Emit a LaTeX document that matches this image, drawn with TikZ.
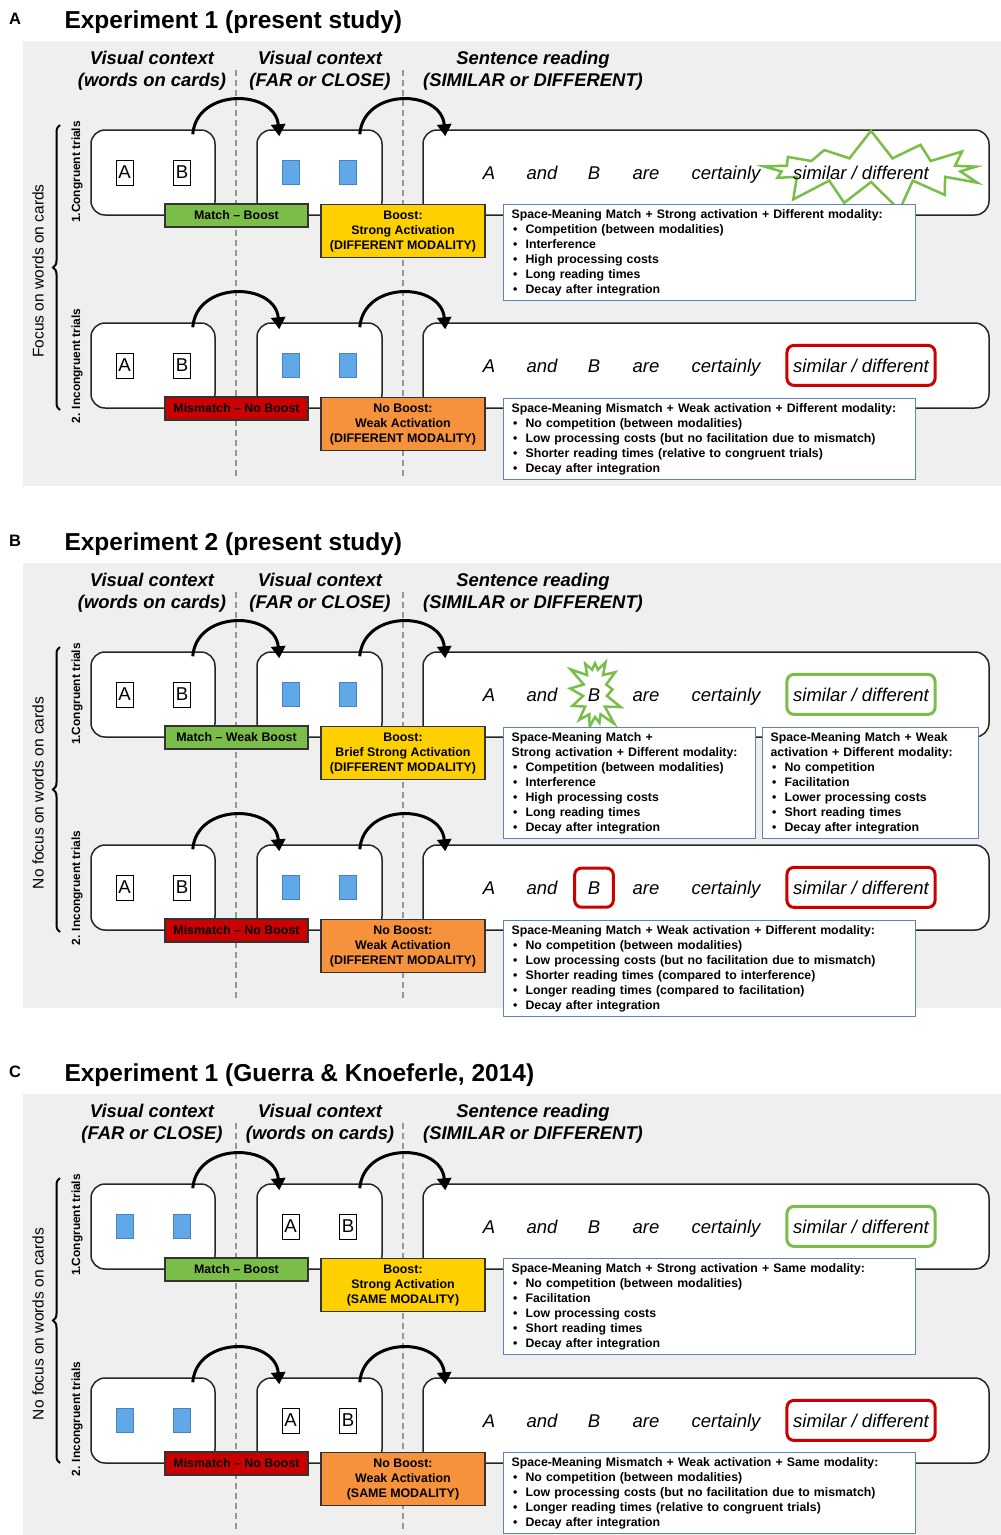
\documentclass[tikz,border=0pt]{standalone}
\usepackage{fontspec}
\setmainfont{Liberation Sans}
\usetikzlibrary{arrows.meta, calc, positioning, shapes.symbols, decorations.pathreplacing, fit}

\definecolor{panelgray}{RGB}{239,239,239}
\definecolor{labgreen}{RGB}{122,189,72}
\definecolor{labred}{RGB}{204,0,0}
\definecolor{labyellow}{RGB}{255,208,0}
\definecolor{laborange}{RGB}{247,146,60}
\definecolor{infoblue}{RGB}{95,130,185}
\definecolor{sqblue}{RGB}{96,168,232}
\definecolor{sqedge}{RGB}{70,130,190}
\definecolor{dashgray}{RGB}{150,150,150}

\newcommand{\fntitle}{\fontsize{24.5}{29}\selectfont\bfseries}
\newcommand{\fnletter}{\fontsize{16.5}{19}\selectfont\bfseries}
\newcommand{\fnhead}{\fontsize{18.4}{22}\selectfont\bfseries\itshape}
\newcommand{\fnsent}{\fontsize{18.5}{22}\selectfont\itshape}
\newcommand{\fnlab}{\fontsize{12.4}{15}\selectfont\bfseries}
\newcommand{\fninfo}{\fontsize{12.3}{15}\selectfont\bfseries}
\newcommand{\fnside}{\fontsize{15.5}{18}\selectfont}
\newcommand{\fntrial}{\fontsize{11.9}{14}\selectfont\bfseries}
\newcommand{\fncard}{\fontsize{18.6}{20}\selectfont}
\newcommand{\bul}{\hspace*{1.5pt}\makebox[12.5pt][l]{\textbullet}}

\tikzset{
  trialbox/.style={draw=black!85, line width=1.5pt, fill=white, rounded corners=14pt, inner sep=0pt},
  flow/.style={line width=3pt, -{Triangle[length=12pt,width=14pt]}},
  card/.style={draw, line width=1pt, fill=white, minimum width=17pt, minimum height=25pt, inner sep=0pt, font=\fncard},
  bluesq/.style={draw=sqedge, line width=0.8pt, fill=sqblue, minimum width=17pt, minimum height=24pt, inner sep=0pt},
  word/.style={anchor=base, inner sep=0pt, font=\fnsent},
  matchbox/.style={draw=black!80, line width=1.2pt, minimum width=143pt, minimum height=23pt, inner sep=0pt, font=\fnlab},
  boostbox/.style={draw=black!80, line width=1.2pt, minimum width=164pt, minimum height=53pt, inner sep=0pt, align=center, font=\fnlab, anchor=north},
  infobox/.style={draw=infoblue, line width=1.2pt, fill=white, anchor=north west, align=left, inner xsep=8pt, inner ysep=4.5pt, font=\fninfo},
  hlbox/.style={draw=#1, line width=3pt, rounded corners=7pt, inner xsep=6pt, inner ysep=13pt},
  burst/.style={starburst, draw=labgreen, line width=2.5pt, fill=white},
  sep/.style={dashgray, line width=1.3pt, dash pattern=on 6pt off 4pt}
}

% one panel: background, headings, separators, brace and side labels
\newcommand{\panelframe}[7]{%
  \fill[panelgray] (23,#4) rectangle (1001,#4+445);
  \node[font=\fnletter] (#1letter) at (15,#4-22) {#2};
  \node[font=\fntitle, anchor=base west] (#1title) at (61,#4-13) {#3};
  \draw[sep] (236,#4+29) -- (236,#4+437);
  \draw[sep] (403,#4+29) -- (403,#4+437);
  \node[font=\fnhead, align=center] (#1headL) at (152,#4+30) {Visual context\\#5};
  \node[font=\fnhead, align=center] (#1headM) at (320,#4+30) {Visual context\\#6};
  \node[font=\fnhead, align=center] (#1headR) at (533,#4+30) {Sentence reading\\(SIMILAR or DIFFERENT)};
  \draw[decorate, decoration={brace, amplitude=7pt}, line width=2pt] (60,#4+369) -- (60,#4+84);
  \node[font=\fnside, rotate=90] (#1side) at (38,#4+230) {#7};
  \node[font=\fntrial, rotate=90] (#1cong) at (77,#4+131) {1.Congruent trials};
  \node[font=\fntrial, rotate=90] (#1incong) at (77,#4+325) {2. Incongruent trials};
}

\newcommand{\wordpair}[3]{%
  \node[card] (#1A) at (#2,#3) {A};
  \node[card] (#1B) at (#2+57.5,#3) {B};
}
\newcommand{\squarepair}[3]{%
  \node[bluesq] (#1A) at (#2,#3) {};
  \node[bluesq] (#1B) at (#2+57.5,#3) {};
}

% three stages of one trial, #2 = top of the boxes
\newcommand{\trialrow}[4]{%
  \node[trialbox, minimum width=124pt, minimum height=85pt] (#1box1) at (153,#2+42.5) {};
  \node[trialbox, minimum width=125pt, minimum height=85pt] (#1box2) at (319.5,#2+42.5) {};
  \node[trialbox, minimum width=566pt, minimum height=85pt] (#1box3) at (706,#2+42.5) {};
  #3{#1l}{124.5}{#2+42.5}
  #4{#1r}{290.5}{#2+42.5}
  \draw[flow] ([xshift=-23pt,yshift=-5pt]#1box1.north east) .. controls +(4,-47) and +(-4,-47) .. ([xshift=23pt,yshift=-7pt]#1box2.north west);
  \draw[flow] ([xshift=-23pt,yshift=-5pt]#1box2.north east) .. controls +(4,-47) and +(-4,-47) .. ([xshift=23pt,yshift=-7pt]#1box3.north west);
}

\newcommand{\sentence}[2]{%
  \node[word] (#1wA) at (489,#2+49) {A};
  \node[word] (#1wand) at (542,#2+49) {and};
  \node[word] (#1wB) at (594,#2+49) {B};
  \node[word] (#1ware) at (646,#2+49) {are};
  \node[word] (#1wcert) at (726,#2+49) {certainly};
  \node[word] (#1wsim) at (861,#2+49) {similar / different};
}

\begin{document}
\begin{tikzpicture}[x=1pt, y=-1pt, >=Stealth]
\useasboundingbox (0,0) rectangle (1001,1535);

% ---------- A ----------
\panelframe{pa}{A}{Experiment 1 (present study)}{41}{(words on cards)}{(FAR or CLOSE)}{Focus on words on cards}

% congruent
\trialrow{aa}{130}{\wordpair}{\squarepair}
\node[burst, minimum width=240pt, minimum height=84pt, starburst points=13, starburst point height=30pt, random starburst=7] (aaburst) at (871,170) {};
\sentence{aa}{130}
\node[matchbox, fill=labgreen] (aamatch) at (236.5,215.5) {Match -- Boost};
\node[boostbox, fill=labyellow] (aaboost) at (403,204) {Boost:\\Strong Activation\\(DIFFERENT MODALITY)};
\node[infobox, text width=396pt] (aainfo) at (503,204) {Space-Meaning Match + Strong activation + Different modality:\\\bul Competition (between modalities)\\\bul Interference\\\bul High processing costs\\\bul Long reading times\\\bul Decay after integration};

% incongruent
\trialrow{ab}{323}{\wordpair}{\squarepair}
\sentence{ab}{323}
\node[hlbox=labred, fit=(abwsim)] (absimmark) {};
\node[matchbox, fill=labred] (abmatch) at (236.5,408.5) {Mismatch -- No Boost};
\node[boostbox, fill=laborange] (abboost) at (403,397) {No Boost:\\Weak Activation\\(DIFFERENT MODALITY)};
\node[infobox, text width=396pt] (abinfo) at (503,398) {Space-Meaning Mismatch + Weak activation + Different modality:\\\bul No competition (between modalities)\\\bul Low processing costs (but no facilitation due to mismatch)\\\bul Shorter reading times (relative to congruent trials)\\\bul Decay after integration};

% ---------- B ----------
\panelframe{pb}{B}{Experiment 2 (present study)}{563}{(words on cards)}{(FAR or CLOSE)}{No focus on words on cards}

% congruent
\trialrow{ba}{652}{\wordpair}{\squarepair}
\node[burst, minimum width=60pt, minimum height=84pt, starburst points=13, starburst point height=18pt, random starburst=3] (baburst) at (595,693) {};
\sentence{ba}{652}
\node[hlbox=labgreen, fit=(bawsim)] (basimmark) {};
\node[matchbox, fill=labgreen] (bamatch) at (236.5,737.5) {Match -- Weak Boost};
\node[boostbox, fill=labyellow] (baboost) at (403,726) {Boost:\\Brief Strong Activation\\(DIFFERENT MODALITY)};
\node[infobox, text width=236pt] (bainfoL) at (503,727) {Space-Meaning Match +\\Strong activation + Different modality:\\\bul Competition (between modalities)\\\bul Interference\\\bul High processing costs\\\bul Long reading times\\\bul Decay after integration};
\node[infobox, text width=200pt] (bainfoR) at (762,727) {Space-Meaning Match + Weak\\activation + Different modality:\\\bul No competition\\\bul Facilitation\\\bul Lower processing costs\\\bul Short reading times\\\bul Decay after integration};

% incongruent
\trialrow{bb}{845}{\wordpair}{\squarepair}
\sentence{bb}{845}
\node[hlbox=labred, inner xsep=13pt, fit=(bbwB)] (bbBmark) {};
\node[hlbox=labred, fit=(bbwsim)] (bbsimmark) {};
\node[matchbox, fill=labred] (bbmatch) at (236.5,930.5) {Mismatch -- No Boost};
\node[boostbox, fill=laborange] (bbboost) at (403,919) {No Boost:\\Weak Activation\\(DIFFERENT MODALITY)};
\node[infobox, text width=396pt] (bbinfo) at (503,920) {Space-Meaning Match + Weak activation + Different modality:\\\bul No competition (between modalities)\\\bul Low processing costs (but no facilitation due to mismatch)\\\bul Shorter reading times (compared to interference)\\\bul Longer reading times (compared to facilitation)\\\bul Decay after integration};

% ---------- C ----------
\panelframe{pc}{C}{Experiment 1 (Guerra \& Knoeferle, 2014)}{1094}{(FAR or CLOSE)}{(words on cards)}{No focus on words on cards}

% congruent
\trialrow{ca}{1184}{\squarepair}{\wordpair}
\sentence{ca}{1184}
\node[hlbox=labgreen, fit=(cawsim)] (casimmark) {};
\node[matchbox, fill=labgreen] (camatch) at (236.5,1269.5) {Match -- Boost};
\node[boostbox, fill=labyellow] (caboost) at (403,1258) {Boost:\\Strong Activation\\(SAME MODALITY)};
\node[infobox, text width=396pt] (cainfo) at (503,1258) {Space-Meaning Match + Strong activation + Same modality:\\\bul No competition (between modalities)\\\bul Facilitation\\\bul Low processing costs\\\bul Short reading times\\\bul Decay after integration};

% incongruent
\trialrow{cb}{1378}{\squarepair}{\wordpair}
\sentence{cb}{1378}
\node[hlbox=labred, fit=(cbwsim)] (cbsimmark) {};
\node[matchbox, fill=labred] (cbmatch) at (236.5,1463.5) {Mismatch -- No Boost};
\node[boostbox, fill=laborange] (cbboost) at (403,1452) {No Boost:\\Weak Activation\\(SAME MODALITY)};
\node[infobox, text width=396pt] (cbinfo) at (503,1452) {Space-Meaning Mismatch + Weak activation + Same modality:\\\bul No competition (between modalities)\\\bul Low processing costs (but no facilitation due to mismatch)\\\bul Longer reading times (relative to congruent trials)\\\bul Decay after integration};

\end{tikzpicture}
\end{document}
